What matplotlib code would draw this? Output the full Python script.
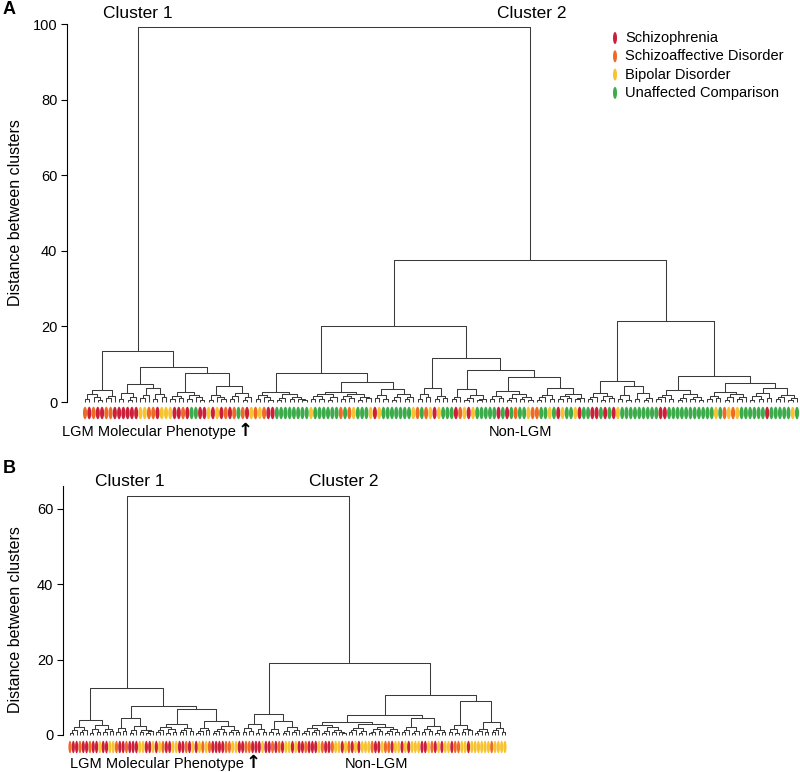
import matplotlib
matplotlib.use("Agg")
import matplotlib.pyplot as plt
from matplotlib.patches import Ellipse
from matplotlib.collections import LineCollection

plt.rcParams['font.family'] = ['Liberation Sans', 'DejaVu Sans']

# leaf colour codes
cat_codes = ['R', 'O', 'Y', 'G']
cat_names = ['Schizophrenia', 'Schizoaffective Disorder', 'Bipolar Disorder', 'Unaffected Comparison']
cat_colors = ['#cc1f3a', '#ee6a25', '#f8c331', '#3cab4a']

# ---- panel A tree, leaves are the diagnosis codes, "(left,right)height"
a_c1l = "(((O,R)0.9,(O,(R,R)0.6)1.3)2.1,((O,O)1.1,R)1.6)3.2"
a_c1rl5 = "((R,R)0.8,((R,R)0.5,R)1.2)2.3"
a_c1rl7 = "(((Y,Y)1.0,O)1.9,((O,R)0.7,(Y,Y)1.4)2.2)3.7"
a_c1rr9 = "(((Y,R)0.7,(R,O)1.1)1.6,((R,G)0.9,(G,(R,R)0.5)1.2)1.8)2.6"
a_c1rr5 = "((Y,R)0.6,(Y,(R,O)0.8)1.2)1.8"
a_c1rr6 = "(((R,O)0.9,G)1.5,((O,R)0.6,Y)1.3)2.4"

a_c2ll = "(((O,Y)0.8,(O,(R,R)0.6)1.2)1.9,(((G,G)0.6,G)1.1,((G,G)0.7,(G,(G,G)0.5)0.9)1.4)2.0)2.6"
a_c2lrl = "((((Y,G)0.7,(G,G)0.9)1.5,((G,G)0.6,G)1.2)2.0,(((O,G)0.8,(O,Y)1.0)1.6,((G,G)0.5,(G,Y)1.1)1.4)2.2)2.6"
a_c2lrr = "(((R,Y)1.0,(G,G)0.7)1.8,(((G,G)0.6,G)1.3,((G,G)0.8,Y)1.2)2.1)3.4"
a_c2r8 = "(((O,G)0.9,(O,Y)1.2)2.0,((R,Y)0.7,(G,G)1.0)1.6)3.7"
a_c2r9 = "(((G,R)0.8,O)1.4,(((Y,R)0.6,Y)1.1,((G,G)0.5,G)0.9)1.9)3.5"
a_c2r11 = "(((G,G)0.7,(R,G)1.0)1.6,(((R,G)0.5,O)1.1,((G,G)0.8,(Y,O)0.6)1.3)2.0)2.8"
a_c2r12 = "((((O,G)0.6,G)1.2,(Y,G)0.9)1.9,(((R,Y)0.7,(G,G)1.0)1.5,((Y,R)0.8,G)1.1)2.2)3.6"

a_c3l7 = "(((G,R)0.8,R)1.3,((G,R)0.6,(G,R)1.0)1.7)2.4"
a_c3l9 = "(((Y,G)0.9,(G,G)0.6)1.8,((G,G)0.7,((G,G)0.5,G)1.0)2.3)4.2"
a_c3r12 = "((((G,R)0.7,R)1.2,(G,G)0.9)1.9,(((G,G)0.5,G)1.1,((G,G)0.8,(G,G)0.6)1.3)2.2)3.2"
a_c3r10 = "(((G,G)0.8,(Y,G)1.0)1.7,(((O,Y)0.6,O)1.2,((Y,G)0.9,G)1.4)2.0)2.6"
a_c3r12b = "((((G,G)0.6,(G,G)0.9)1.5,(R,G)1.1)2.3,(((G,G)0.8,G)1.2,((G,Y)0.5,G)1.0)1.9)3.8"

a_cluster1 = ("(" + a_c1l + ",((" + a_c1rl5 + "," + a_c1rl7 + ")4.8,(" + a_c1rr9
              + ",(" + a_c1rr5 + "," + a_c1rr6 + ")4.2)7.7)9.3)13.6")
a_c2left = ("((" + a_c2ll + ",(" + a_c2lrl + "," + a_c2lrr + ")5.3)7.7,(" + a_c2r8
            + ",(" + a_c2r9 + ",(" + a_c2r11 + "," + a_c2r12 + ")6.6)8.5)11.6)20.0")
a_c2right = ("((" + a_c3l7 + "," + a_c3l9 + ")5.6,(" + a_c3r12 + ",(" + a_c3r10 + ","
             + a_c3r12b + ")5.0)7.0)21.3")
tree_a = "(" + a_cluster1 + ",(" + a_c2left + "," + a_c2right + ")37.5)99.3"

# ---- panel B tree
b_c1l = "((((O,R)0.6,R)1.2,((O,R)0.8,R)1.4)2.2,(((O,R)0.5,(R,Y)0.9)1.6,((R,R)0.7,(Y,Y)1.1)1.5)2.6)4.0"
b_c1rl = "(((O,R)0.8,(R,O)1.1)1.9,(((R,R)0.6,R)1.2,((Y,Y)0.7,((R,R)0.5,Y)1.0)1.4)2.4)4.6"
b_c1rr12 = "((((R,Y)0.7,O)1.3,((R,R)0.6,(Y,Y)0.9)1.5)2.1,(((R,R)0.8,O)1.2,(R,Y)1.0)1.8)3.0"
b_c1rr14 = "((((R,Y)0.5,O)1.0,(Y,O)1.3)1.9,((((R,R)0.6,R)1.1,(R,O)0.8)1.6,((O,Y)0.9,(Y,R)0.7)1.4)2.3)3.8"
b_c2l8 = "(((R,O)0.7,(O,R)1.0)1.8,((R,R)0.6,(Y,R)0.9)1.5)2.8"
b_c2l10 = "(((R,O)0.8,(R,O)0.6)1.6,(((R,Y)0.5,Y)1.1,((R,Y)0.9,R)1.3)2.0)3.6"
b_c2m14 = "((((R,O)0.6,R)1.1,((R,R)0.8,Y)1.3)1.9,(((O,R)0.5,R)1.0,((O,Y)0.7,(Y,(R,Y)0.6)0.9)1.4)2.1)2.6"
b_c2m16 = "((((O,R)0.7,Y)1.2,((R,Y)0.6,Y)1.0)1.8,((((Y,O)0.5,R)0.9,(R,Y)1.1)1.6,(((O,O)0.6,R)1.0,(Y,Y)0.8)1.5)2.2)3.0"
b_c2r14 = "((((R,Y)0.7,R)1.3,((Y,Y)0.5,Y)1.1)2.0,(((R,R)0.8,(Y,O)1.0)1.7,((R,Y)0.6,(R,Y)0.9)1.4)2.5)4.4"
b_c2r8 = "(((Y,R)0.8,(O,O)0.6)1.5,((Y,Y)0.9,(R,Y)1.2)1.7)2.7"
b_c2r10 = "((((Y,Y)0.5,Y)1.0,(Y,Y)0.8)1.6,(((O,Y)0.7,Y)1.2,(Y,Y)0.9)1.9)3.5"

b_cluster1 = ("(" + b_c1l + ",(" + b_c1rl + ",(" + b_c1rr12 + "," + b_c1rr14 + ")6.8)7.8)12.5")
b_cluster2 = ("((" + b_c2l8 + "," + b_c2l10 + ")5.6,(((" + b_c2m14 + "," + b_c2m16 + ")3.4,"
              + b_c2r14 + ")5.4,(" + b_c2r8 + "," + b_c2r10 + ")9.0)10.5)19.2")
tree_b = "(" + b_cluster1 + "," + b_cluster2 + ")63.4"

y_ticks_a = [0, 20, 40, 60, 80, 100]
y_ticks_b = [0, 20, 40, 60]


def parse(s, i=0):
    if s[i] == '(':
        left, i = parse(s, i + 1)
        right, i = parse(s, i + 1)  # skip ','
        i += 1  # skip ')'
        j = i
        while j < len(s) and (s[j].isdigit() or s[j] == '.'):
            j += 1
        return (float(s[i:j]), left, right), j
    return s[i], i + 1


def layout(node, leaves, segs):
    if isinstance(node, str):
        leaves.append(node)
        return len(leaves) - 1, 0.0
    h, l, r = node
    xl, hl = layout(l, leaves, segs)
    xr, hr = layout(r, leaves, segs)
    segs.append([(xl, hl), (xl, h), (xr, h), (xr, hr)])
    return (xl + xr) / 2, h


W, H = 800, 772
fig = plt.figure(figsize=(W / 100, H / 100), dpi=100)


def draw_panel(tree, px_axis, px_first, px_last, px_right, py_zero, py_per, py_top, py_bot,
               ticks, spine_top, oval_py, oval_h):
    root, _ = parse(tree)
    leaves, segs = [], []
    layout(root, leaves, segs)
    n = len(leaves)
    s = (px_last - px_first) / (n - 1)
    ax = fig.add_axes([px_axis / W, 1 - py_bot / H, (px_right - px_axis) / W, (py_bot - py_top) / H])
    ax.set_xlim(-(px_first - px_axis) / s, (n - 1) + (px_right - px_last) / s)
    ax.set_ylim(-(py_bot - py_zero) / py_per, (py_zero - py_top) / py_per)
    ax.add_collection(LineCollection(segs, colors='#3a3a3a', linewidths=0.75))
    oy = -(oval_py - py_zero) / py_per
    for i, c in enumerate(leaves):
        ax.add_patch(Ellipse((i, oy), width=0.95, height=oval_h / py_per,
                             color=cat_colors[cat_codes.index(c)], lw=0, clip_on=False))
    for sp in ['top', 'right', 'bottom']:
        ax.spines[sp].set_visible(False)
    ax.spines['left'].set_bounds(0, spine_top)
    ax.spines['left'].set_linewidth(0.8)
    ax.set_xticks([])
    ax.set_yticks(ticks)
    ax.tick_params(axis='y', labelsize=10.5, length=4, width=0.8, pad=3)
    return ax


ax_a = draw_panel(tree_a, 67, 85, 797, 800, 402, 3.78, 20, 428, y_ticks_a, 100, 413, 12.5)
ax_b = draw_panel(tree_b, 63, 70, 505, 511, 735, 3.77, 480, 772, y_ticks_b, 66, 747, 12.5)

fs_lab = 11.5
fig.text(16 / W, 1 - 213 / H, 'Distance between clusters', rotation=90, ha='center', va='center', fontsize=fs_lab)
fig.text(16 / W, 1 - 620 / H, 'Distance between clusters', rotation=90, ha='center', va='center', fontsize=fs_lab)
fig.text(3 / W, 1 - 10 / H, 'A', fontsize=13, fontweight='bold', va='center', ha='left')
fig.text(3 / W, 1 - 468 / H, 'B', fontsize=13, fontweight='bold', va='center', ha='left')

fig.text(138 / W, 1 - 14 / H, 'Cluster 1', fontsize=12.5, ha='center', va='center')
fig.text(532 / W, 1 - 14 / H, 'Cluster 2', fontsize=12.5, ha='center', va='center')
fig.text(130 / W, 1 - 482 / H, 'Cluster 1', fontsize=12.5, ha='center', va='center')
fig.text(344 / W, 1 - 482 / H, 'Cluster 2', fontsize=12.5, ha='center', va='center')

# leaf-row captions
for x0, xn, y0 in [(62, 520, 432), (70, 376, 764)]:
    t = fig.text(x0 / W, 1 - y0 / H, 'LGM Molecular Phenotype', fontsize=10.5, ha='left', va='center')
    fig.canvas.draw()
    bb = t.get_window_extent()
    fig.text((bb.x1 + 2) / W, 1 - (y0 - 1) / H, '\u2191', fontsize=13, fontweight='bold',
             ha='left', va='center', family='DejaVu Sans')
    fig.text(xn / W, 1 - y0 / H, 'Non-LGM', fontsize=10.5, ha='center', va='center')

# legend
for k, (name, col) in enumerate(zip(cat_names, cat_colors)):
    yk = 38 + k * 18.3
    fig.add_artist(Ellipse((615 / W, 1 - yk / H), width=4 / W, height=12 / H, color=col, lw=0,
                           transform=fig.transFigure))
    fig.text(625 / W, 1 - yk / H, name, fontsize=10.5, ha='left', va='center')

fig.savefig('out.png', dpi=100)
